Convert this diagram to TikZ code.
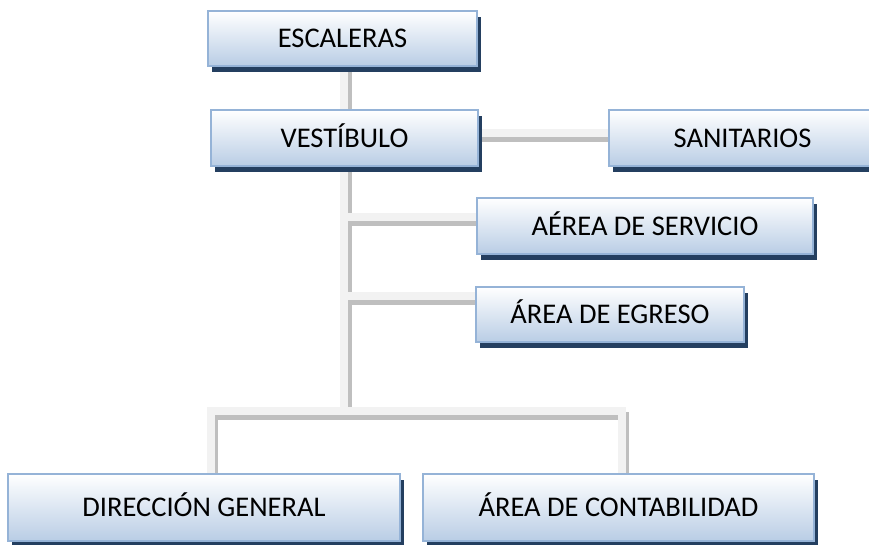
\documentclass[tikz,border=0pt]{standalone}
\usepackage{fontspec}
\setmainfont{Carlito}
\usetikzlibrary{shadows,backgrounds}
\definecolor{boxbot}{HTML}{B9CDE5}
\definecolor{boxline}{HTML}{95B3D7}
\definecolor{boxshadow}{HTML}{243F60}
\definecolor{connlight}{HTML}{F2F2F2}
\definecolor{conndark}{HTML}{BFBFBF}
\newcommand\drawconnectors[1]{%
  \draw[conn,#1] (tx |- esc.south) -- (tx |- ves.north);
  \draw[conn,#1] (tx |- ves.south) -- (bus);
  \draw[conn,#1] (s1) -- (s1 -| san.west);
  \draw[conn,#1] (j1) -- (j1 -| aer.west);
  \draw[conn,#1] (j2) -- (j2 -| egr.west);
  \draw[conn,#1] (bl |- dir.north) -- (bl) -- (br) -- (br |- con.north);
}
\begin{document}
\begin{tikzpicture}[x=1pt,y=-1pt,
  box/.style={rectangle, top color=white, bottom color=boxbot, draw=boxline,
    line width=2pt, inner sep=0pt, text height=18.5pt, text depth=0pt,
    font=\fontsize{28.5}{34}\selectfont,
    drop shadow={fill=boxshadow, opacity=1, shadow xshift=3.5pt, shadow yshift=-5.5pt}},
  conn/.style={line width=8pt, line join=miter, line cap=butt}]
\useasboundingbox (0,0) rectangle (869,544);
\node[box, minimum width=269pt, minimum height=55pt] (esc) at (342.5,38.5) {ESCALERAS};
\node[box, minimum width=267pt, minimum height=56pt] (ves) at (344.5,138) {VESTÍBULO};
\node[box, minimum width=267pt, minimum height=56pt] (san) at (742.5,138) {SANITARIOS};
\node[box, minimum width=336pt, minimum height=56pt] (aer) at (645,226) {AÉREA DE SERVICIO};
\node[box, minimum width=268pt, minimum height=55pt] (egr) at (610,314.5) {ÁREA DE EGRESO};
\node[box, minimum width=392pt, minimum height=67pt] (dir) at (204,507.5) {DIRECCIÓN GENERAL};
\node[box, minimum width=391pt, minimum height=67pt] (con) at (618.5,507.5) {ÁREA DE CONTABILIDAD};
\coordinate (tx) at (344,0);
\coordinate (bus) at (344,411);
\coordinate (s1) at (478,133);
\coordinate (j1) at (344,217);
\coordinate (j2) at (344,296);
\coordinate (bl) at (210.5,411);
\coordinate (br) at (621.5,411);
\begin{scope}[on background layer]
  \begin{scope}[transform canvas={xshift=3.5pt,yshift=-4.5pt}]
    \drawconnectors{conndark}
  \end{scope}
  \drawconnectors{connlight}
\end{scope}
\end{tikzpicture}
\end{document}
